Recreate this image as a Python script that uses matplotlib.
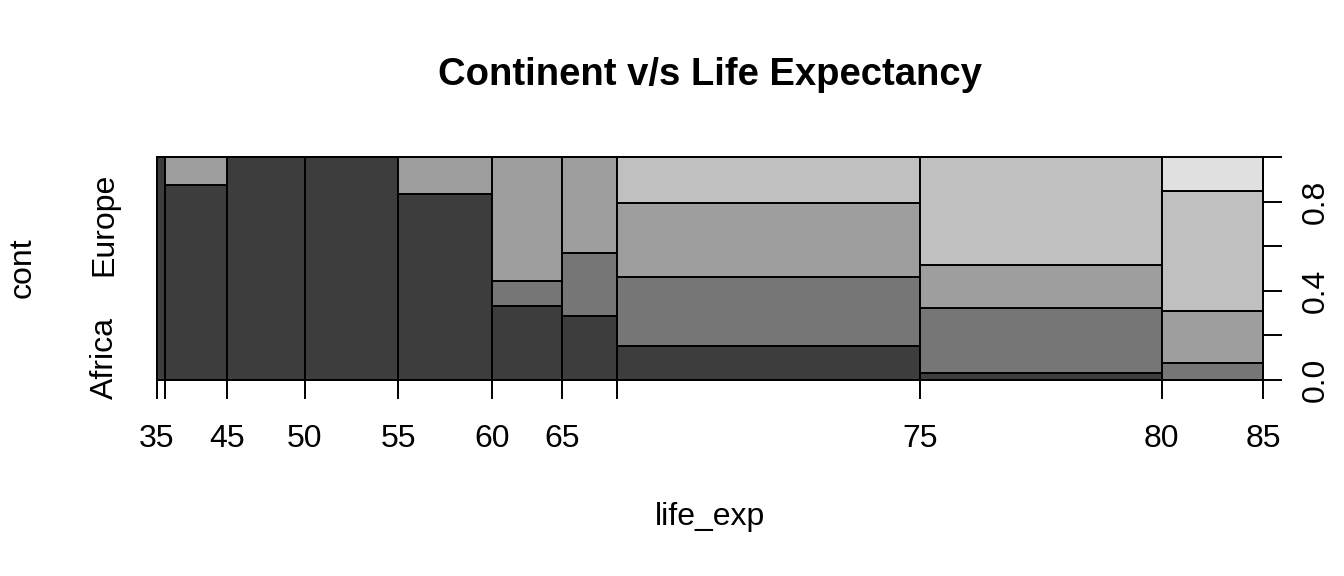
import matplotlib
matplotlib.use("Agg")
import matplotlib.pyplot as plt
import numpy as np

plt.rcParams['font.family'] = ['Liberation Sans', 'DejaVu Sans']

# bornes des classes d'espérance de vie
breaks = [35, 40, 45, 50, 55, 60, 65, 70, 75, 80, 85]
break_labels = ["35", "", "45", "50", "55", "60", "65", "", "75", "80", "85"]

continents = ["Africa", "Americas", "Asia", "Europe", "Oceania"]
cont_labels = ["Africa", "", "", "Europe", ""]

# nombre de pays par classe, pour chaque continent
africa = [1, 7, 10, 12, 10, 3, 2, 6, 1, 0]
americas = [0, 0, 0, 0, 0, 1, 2, 12, 9, 1]
asia = [0, 1, 0, 0, 2, 5, 3, 13, 6, 3]
europe = [0, 0, 0, 0, 0, 0, 0, 8, 15, 7]
oceania = [0, 0, 0, 0, 0, 0, 0, 0, 0, 2]

colors = ["#3d3d3d", "#767676", "#9e9e9e", "#c0c0c0", "#e0e0e0"]

counts = np.array([africa, americas, asia, europe, oceania], dtype=float)
totals = counts.sum(axis=0)
widths = totals / totals.sum()
lefts = np.concatenate([[0], np.cumsum(widths)[:-1]])
props = counts / totals

fig = plt.figure(figsize=(13.44, 5.76), dpi=100)
ax = fig.add_axes([157 / 1344, 1 - 380 / 576, 1106 / 1344, 223 / 576])

bottom = np.zeros(len(totals))
for i, name in enumerate(continents):
    ax.bar(lefts, props[i], width=widths, bottom=bottom, align='edge',
           color=colors[i], edgecolor='black', linewidth=1.4, clip_on=False)
    bottom += props[i]

ax.set_xlim(0, 1)
ax.set_ylim(0, 1)

xat = np.concatenate([[0], np.cumsum(widths)])
ax.set_xticks(xat)
ax.set_xticklabels(break_labels, fontsize=23)
ax.tick_params(axis='x', length=14, width=1.4, pad=18)

ax.set_yticks([0.1, 0.3, 0.5, 0.7, 0.9])
ax.set_yticklabels(cont_labels, fontsize=23, rotation=90, va='center')
ax.tick_params(axis='y', length=0, pad=27)

for side in ['top', 'left', 'right']:
    ax.spines[side].set_visible(False)
ax.spines['bottom'].set_linewidth(1.4)

ax2 = ax.twinx()
ax2.set_ylim(0, 1)
ax2.set_yticks([0, 0.2, 0.4, 0.6, 0.8, 1.0])
ax2.set_yticklabels(["0.0", "", "0.4", "", "0.8", ""], fontsize=23,
                    rotation=90, va='center')
ax2.tick_params(axis='y', length=14, width=1.4, pad=13)
for side in ['top', 'left', 'bottom']:
    ax2.spines[side].set_visible(False)
ax2.spines['right'].set_linewidth(1.4)

fig.text(710 / 1344, 1 - 75 / 576, "Continent v/s Life Expectancy",
         fontsize=27.5, fontweight='bold', ha='center', va='center')
fig.text(710 / 1344, 1 - 525 / 576, "life_exp", fontsize=23,
         ha='center', va='baseline')
fig.text(23 / 1344, 1 - 268 / 576, "cont", fontsize=23, rotation=90,
         ha='center', va='center')

fig.savefig("out.png", dpi=100)
